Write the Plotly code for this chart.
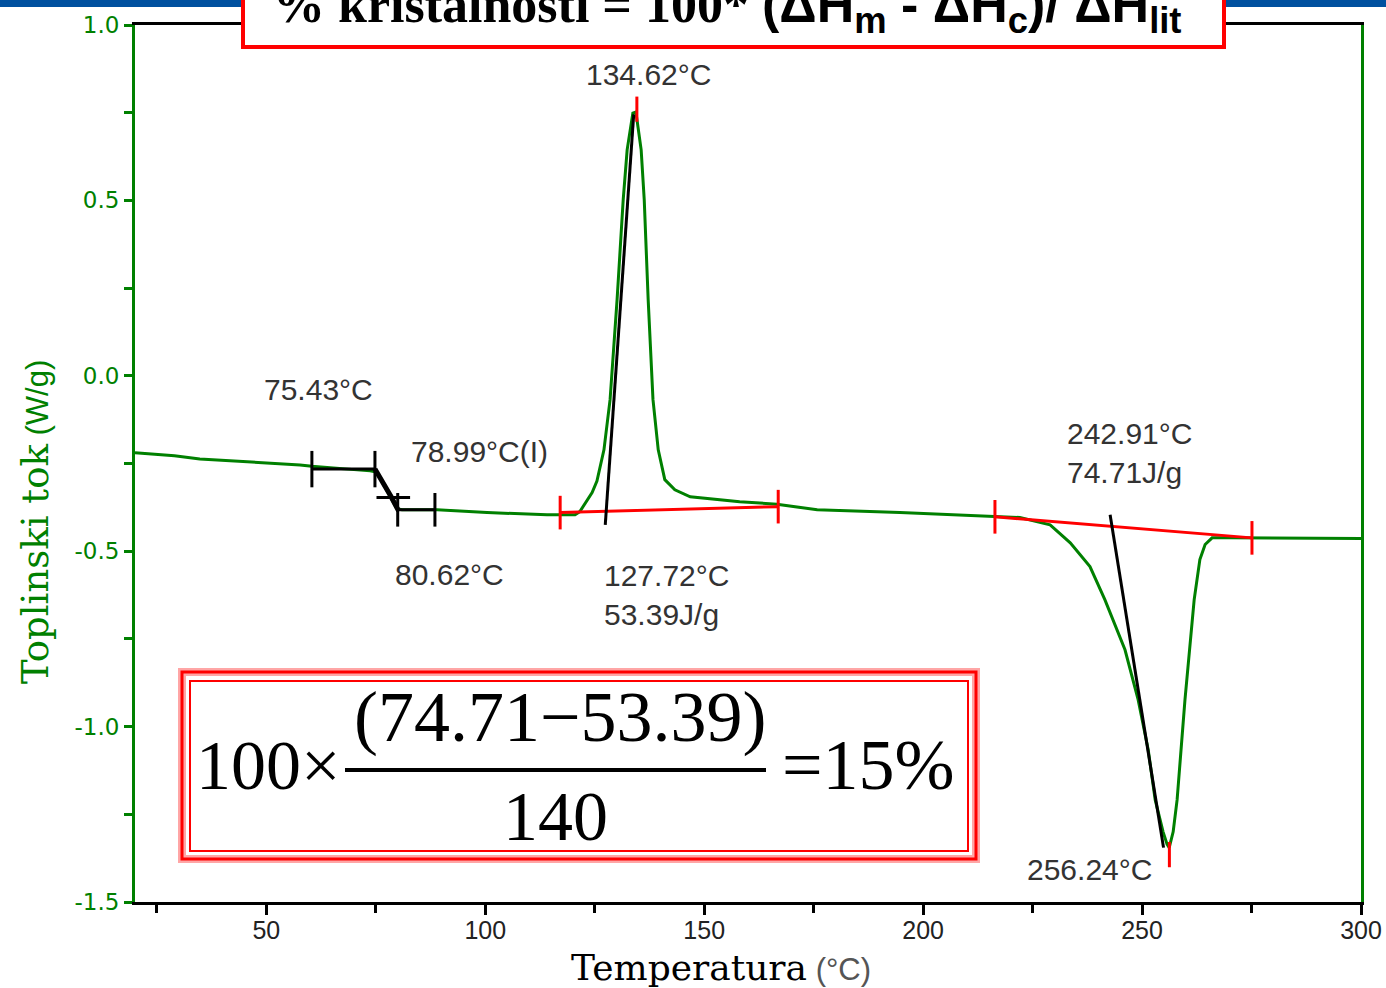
import plotly.graph_objects as go

# ---------------- data ----------------
temperature = [20.0, 29.0, 34.8, 46.3, 57.7, 60.4, 68.0, 73.7, 75.3, 76.0, 77.1, 78.7, 79.8, 81.0,
               89.0, 100.4, 114.1, 120.5, 121.6, 124.4, 125.5, 127.1, 128.5, 130.1, 131.5, 132.4,
               133.7, 134.4, 135.6, 136.3, 137.2, 138.3, 139.5, 141.0, 143.3, 146.8,
               150.6, 158.1, 166.6, 175.8, 194.7, 216.4, 222.1, 229.0, 233.6, 238.1, 241.5,
               246.1, 249.1, 251.4, 253.0, 254.8, 255.7, 256.2, 257.1, 258.0, 259.8, 261.9,
               263.2, 264.4, 266.0, 270.0, 285.0, 300.0]
heat_flow = [-0.219, -0.228, -0.237, -0.245, -0.254, -0.258, -0.265, -0.271, -0.275, -0.291,
             -0.319, -0.353, -0.379, -0.382, -0.382, -0.390, -0.396, -0.396, -0.387, -0.333,
             -0.300, -0.211, -0.068, 0.217, 0.502, 0.644, 0.749, 0.752, 0.644, 0.502, 0.217,
             -0.068, -0.211, -0.296, -0.325, -0.345, -0.350, -0.359, -0.366, -0.382, -0.390,
             -0.402, -0.404, -0.425, -0.476, -0.544, -0.638, -0.781, -0.923, -1.066, -1.209,
             -1.300, -1.335, -1.345, -1.300, -1.209, -0.923, -0.638, -0.524, -0.481, -0.462,
             -0.462, -0.463, -0.464]

# glass transition construction (black)
tg_onset_x = [60.4, 74.8]
tg_onset_y = [-0.266, -0.266]
tg_step_x = [74.8, 76.5, 78.5, 80.2]
tg_step_y = [-0.266, -0.300, -0.345, -0.385]
tg_end_x = [80.0, 88.5]
tg_end_y = [-0.382, -0.382]
tg_inflection_x = [78.99]
tg_inflection_y = [-0.347]

# crystallization construction
cryst_base_x = [117.1, 166.9]
cryst_base_y = [-0.390, -0.373]
cryst_tangent_x = [127.4, 133.9]
cryst_tangent_y = [-0.425, 0.745]
cryst_peak_x = [134.62]
cryst_peak_y = [0.760]

# melting construction
melt_base_x = [216.4, 275.1]
melt_base_y = [-0.402, -0.462]
melt_tangent_x = [242.7, 254.9]
melt_tangent_y = [-0.396, -1.345]
melt_peak_x = [256.24]
melt_peak_y = [-1.365]

# axis ticks
x_ticks = [50, 100, 150, 200, 250, 300]
x_ticklabels = ["50", "100", "150", "200", "250", "300"]
x_minor = [25, 75, 125, 175, 225, 275]
y_ticks = [-1.5, -1.0, -0.5, 0.0, 0.5, 1.0]
y_ticklabels = ["-1.5", "-1.0", "-0.5", "0.0", "0.5", "1.0"]
y_minor = [-1.25, -0.75, -0.25, 0.25, 0.75]

GREEN = "#008000"
RED = "#ff0000"
BLACK = "#000000"
TXT = "#333333"

fig = go.Figure()

fig.add_trace(go.Scatter(x=temperature, y=heat_flow, mode="lines",
                         line=dict(color=GREEN, width=3), hoverinfo="skip"))

def tick_marker(color, size):
    return dict(symbol="line-ns-open", size=size, color=color, line=dict(color=color, width=3))

# red baselines with end ticks
for bx, by in [(cryst_base_x, cryst_base_y), (melt_base_x, melt_base_y)]:
    fig.add_trace(go.Scatter(x=bx, y=by, mode="lines+markers",
                             line=dict(color=RED, width=3), marker=tick_marker(RED, 24)))

# black constructions
fig.add_trace(go.Scatter(x=tg_onset_x, y=tg_onset_y, mode="lines+markers",
                         line=dict(color=BLACK, width=3), marker=tick_marker(BLACK, 26)))
fig.add_trace(go.Scatter(x=tg_step_x, y=tg_step_y, mode="lines",
                         line=dict(color=BLACK, width=5)))
fig.add_trace(go.Scatter(x=tg_end_x, y=tg_end_y, mode="lines+markers",
                         line=dict(color=BLACK, width=3), marker=tick_marker(BLACK, 24)))
fig.add_trace(go.Scatter(x=tg_inflection_x, y=tg_inflection_y, mode="markers",
                         marker=dict(symbol="line-ew-open", size=24, color=BLACK,
                                     line=dict(color=BLACK, width=3))))
for tx, ty in [(cryst_tangent_x, cryst_tangent_y), (melt_tangent_x, melt_tangent_y)]:
    fig.add_trace(go.Scatter(x=tx, y=ty, mode="lines", line=dict(color=BLACK, width=3)))

# red peak ticks
for px_, py_ in [(cryst_peak_x, cryst_peak_y), (melt_peak_x, melt_peak_y)]:
    fig.add_trace(go.Scatter(x=px_, y=py_, mode="markers", marker=tick_marker(RED, 18)))

# ---------------- layout ----------------
L, R, T, B = 135, 25, 25, 86
W, H = 1386, 988
PW, PH = W - L - R, H - T - B

def paper_x(px):
    return (px - L) / PW

def paper_y(py):
    return (H - B - py) / PH

fig.update_layout(
    width=W, height=H,
    margin=dict(l=L, r=R, t=T, b=B, pad=0, autoexpand=False),
    paper_bgcolor="white", plot_bgcolor="white",
    showlegend=False,
    xaxis=dict(range=[20, 300], showgrid=False, zeroline=False, automargin=False,
               showline=True, linecolor=BLACK, linewidth=3, mirror=True,
               tickmode="array", tickvals=x_ticks, ticktext=x_ticklabels,
               ticks="outside", ticklen=10, tickwidth=3, tickcolor=BLACK,
               ticklabelstandoff=-6,
               minor=dict(tickmode="array", tickvals=x_minor, ticks="outside",
                          ticklen=8, tickwidth=3, tickcolor=BLACK),
               tickfont=dict(family="Liberation Sans, Arial", size=25, color="#222222")),
    yaxis=dict(range=[-1.5, 1.0], showgrid=False, zeroline=False, automargin=False,
               showline=True, linecolor=GREEN, linewidth=3, mirror=True,
               tickmode="array", tickvals=y_ticks, ticktext=y_ticklabels,
               ticks="outside", ticklen=8, tickwidth=3, tickcolor=GREEN,
               minor=dict(tickmode="array", tickvals=y_minor, ticks="outside",
                          ticklen=8, tickwidth=3, tickcolor=GREEN),
               tickfont=dict(family="DejaVu Sans, Verdana", size=23, color=GREEN)),
)

shapes = []
# blue band at top
shapes.append(dict(type="rect", xref="paper", yref="paper", ysizemode="pixel", yanchor=1,
                   x0=-0.2, x1=1.2, y0=18, y1=32, line=dict(width=0),
                   fillcolor="#00509f", layer="above"))
# title box
shapes.append(dict(type="rect", xref="paper", yref="paper", ysizemode="pixel", yanchor=1,
                   x0=paper_x(243), x1=paper_x(1224), y0=-22, y1=40,
                   line=dict(color=RED, width=4), fillcolor="white", layer="above"))
# formula box (double border)
shapes.append(dict(type="rect", xref="paper", yref="paper",
                   x0=paper_x(182), x1=paper_x(976), y0=paper_y(859), y1=paper_y(672),
                   line=dict(color="rgba(255,0,0,0.35)", width=8), fillcolor="white", layer="above"))
shapes.append(dict(type="rect", xref="paper", yref="paper",
                   x0=paper_x(182), x1=paper_x(976), y0=paper_y(859), y1=paper_y(672),
                   line=dict(color=RED, width=3), layer="above"))
shapes.append(dict(type="rect", xref="paper", yref="paper",
                   x0=paper_x(190), x1=paper_x(968), y0=paper_y(851), y1=paper_y(681),
                   line=dict(color=RED, width=2), layer="above"))
# fraction bar
shapes.append(dict(type="line", xref="paper", yref="paper",
                   x0=paper_x(345), x1=paper_x(766), y0=paper_y(770), y1=paper_y(770),
                   line=dict(color=BLACK, width=4), layer="above"))
fig.update_layout(shapes=shapes)

ann = []
SANS = "Liberation Sans, Arial"
SERIF = "Liberation Serif, Times New Roman"

def data_label(text, x, y, xanchor="center", align="center"):
    ann.append(dict(text=text, x=x, y=y, xref="x", yref="y", showarrow=False,
                    xanchor=xanchor, yanchor="middle", align=align,
                    font=dict(family=SANS, size=30, color=TXT)))

data_label("134.62°C", 137.2, 0.858)
data_label("75.43°C", 61.8, -0.040)
data_label("78.99°C(I)", 98.6, -0.217)
data_label("80.62°C", 91.9, -0.567)
data_label("127.72°C<br>53.39J/g", 126.7, -0.624, xanchor="left", align="left")
data_label("242.91°C<br>74.71J/g", 232.4, -0.219, xanchor="left", align="left")
data_label("256.24°C", 237.9, -1.408)

def paper_text(text, px, py, size, family, color=BLACK, xanchor="center", angle=0):
    ann.append(dict(text=text, x=paper_x(px), y=paper_y(py), xref="paper", yref="paper",
                    showarrow=False, xanchor=xanchor, yanchor="middle", textangle=angle,
                    font=dict(family=family, size=size, color=color)))

# formula
paper_text("100×", 268, 765, 70, SERIF)
paper_text("(74.71−53.39)", 560, 717, 72, SERIF)
paper_text("140", 555, 816, 70, SERIF)
paper_text("=15%", 868, 765, 72, SERIF)

# title
paper_text('<b>% kristalnosti = 100* <span style="font-family:Liberation Sans, Arial">'
           '(ΔH<sub>m</sub> - ΔH<sub>c</sub>)/ ΔH<sub>lit</sub></span></b>',
           727, 8, 52, SERIF)

# axis titles
paper_text('Temperatura<span style="font-family:Liberation Sans, Arial;font-size:31px;color:#555555"> (°C)</span>',
           721, 967, 36, "DejaVu Serif")
paper_text('Toplinski tok<span style="font-family:Liberation Sans, Arial;font-size:31px"> (W/g)</span>',
           35, 522, 37, "DejaVu Serif", color=GREEN, angle=-90)

fig.update_layout(annotations=ann)

fig.write_html("out.html")
